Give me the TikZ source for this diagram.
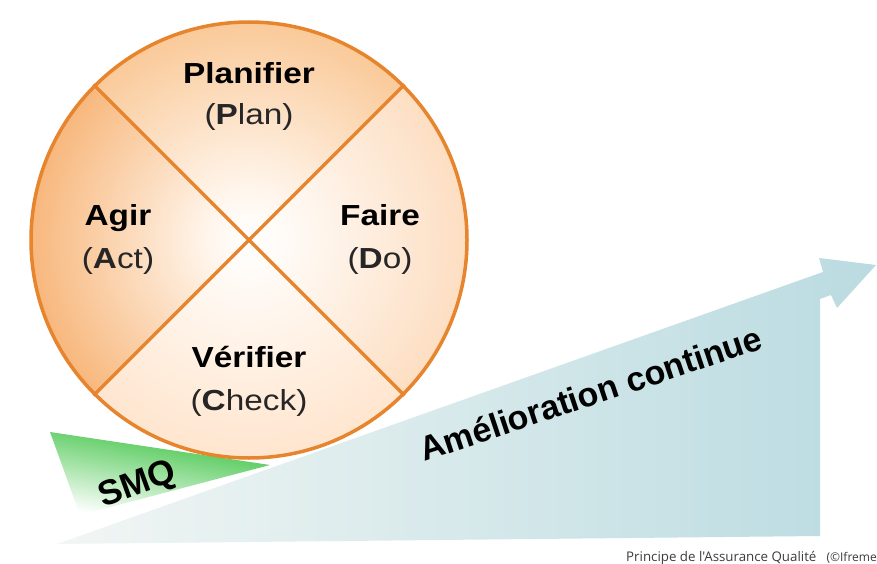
\documentclass[tikz,border=0pt]{standalone}
\usepackage{fontspec}
\setmainfont{Liberation Sans}
\newfontfamily\labfont[FakeStretch=1.15]{Liberation Sans}
\newfontfamily\capfont{Open Sans}

% radial fills of the four PDCA quarters: white heart, coloured rim
\pgfdeclareradialshading{planshade}{\pgfpoint{0bp}{0bp}}{rgb(0bp)=(1,1,1); rgb(5bp)=(1,0.97,0.94); rgb(25bp)=(0.98,0.79,0.60); rgb(50bp)=(0.96,0.63,0.34)}
\pgfdeclareradialshading{actshade}{\pgfpoint{0bp}{0bp}}{rgb(0bp)=(1,1,1); rgb(5bp)=(1,0.96,0.92); rgb(25bp)=(0.97,0.72,0.49); rgb(42bp)=(0.95,0.60,0.30); rgb(50bp)=(0.94,0.57,0.25)}
\pgfdeclareradialshading{doshade}{\pgfpoint{0bp}{0bp}}{rgb(0bp)=(1,1,1); rgb(5bp)=(1,0.98,0.96); rgb(25bp)=(0.99,0.87,0.76); rgb(50bp)=(0.97,0.75,0.56)}
\pgfdeclareradialshading{checkshade}{\pgfpoint{0bp}{0bp}}{rgb(0bp)=(1,1,1); rgb(5bp)=(1,0.98,0.96); rgb(25bp)=(1,0.90,0.81); rgb(50bp)=(0.99,0.85,0.72)}

\definecolor{ringorange}{RGB}{231,132,46}
\definecolor{arrowL}{RGB}{242,246,244}
\definecolor{arrowR}{RGB}{186,219,225}
\definecolor{smqgreen}{RGB}{52,192,58}
\definecolor{capgray}{RGB}{60,60,60}

\begin{document}
\begin{tikzpicture}[x=1pt,y=-1pt,
  ring/.style={draw=ringorange, line width=3.5pt},
  labbold/.style={font=\labfont\bfseries\fontsize{29}{29}\selectfont, text=black, anchor=base, inner sep=0},
  labreg/.style={font=\labfont\fontsize{29}{29}\selectfont, text=black!85, anchor=base, inner sep=0},
  slanted/.style={font=\bfseries\fontsize{#1}{#1}\selectfont, text=black, anchor=base west, inner sep=0},
  credittext/.style={font=\capfont\fontsize{#1}{#1}\selectfont, text=capgray, inner sep=0}]

\useasboundingbox (0,0) rectangle (877,564);
\fill[white] (0,0) rectangle (877,564);

% continuous-improvement arrow
\shade[left color=arrowL, right color=arrowR]
  (57,544) -- (823,272) -- (819,258) -- (876,265) -- (837,308)
  -- (831,295) -- (820,299) -- (820,536) -- cycle;

% QMS wedge
\shade[top color=smqgreen, middle color=smqgreen!65, bottom color=white, shading angle=-10]
  (50,432) -- (270,465) -- (80,515) -- cycle;

% PDCA wheel
\coordinate (c) at (249,240);
\begin{scope}
  \clip (c) -- ++(-300,-300) -- ++(600,0) -- cycle;
  \shade[shading=planshade] (c) circle[radius=218pt];
\end{scope}
\begin{scope}
  \clip (c) -- ++(-300,-300) -- ++(0,600) -- cycle;
  \shade[shading=actshade] (c) circle[radius=218pt];
\end{scope}
\begin{scope}
  \clip (c) -- ++(300,-300) -- ++(0,600) -- cycle;
  \shade[shading=doshade] (c) circle[radius=218pt];
\end{scope}
\begin{scope}
  \clip (c) -- ++(-300,300) -- ++(600,0) -- cycle;
  \shade[shading=checkshade] (c) circle[radius=218pt];
\end{scope}

\node[circle, ring, minimum size=436pt, inner sep=0] (pdca) at (c) {};
\draw[ring] (pdca.north west) -- (pdca.south east);
\draw[ring] (pdca.north east) -- (pdca.south west);

% quarter labels
\node[labbold] (plan)    at (249,84)  {Planifier};
\node[labreg]  (planen)  at (249,125) {(\textbf{P}lan)};
\node[labbold] (act)     at (118,225) {Agir};
\node[labreg]  (acten)   at (118,268) {(\textbf{A}ct)};
\node[labbold] (do)      at (380,225) {Faire};
\node[labreg]  (doen)    at (380,268) {(\textbf{D}o)};
\node[labbold] (check)   at (249,367) {Vérifier};
\node[labreg]  (checken) at (249,410) {(\textbf{C}heck)};

% slanted captions
\node[slanted=34, rotate=18.5] (amel) at (424,462) {Amélioration continue};
\node[slanted=35, rotate=20] (smq) at (103,508) {SMQ};

% credit line
\node[credittext=13.3, anchor=base west] (credit) at (626,561) {Principe de l'Assurance Qualité};
\node[credittext=12, anchor=base east] (source) at (877,561) {(©Ifreme};
\end{tikzpicture}
\end{document}
